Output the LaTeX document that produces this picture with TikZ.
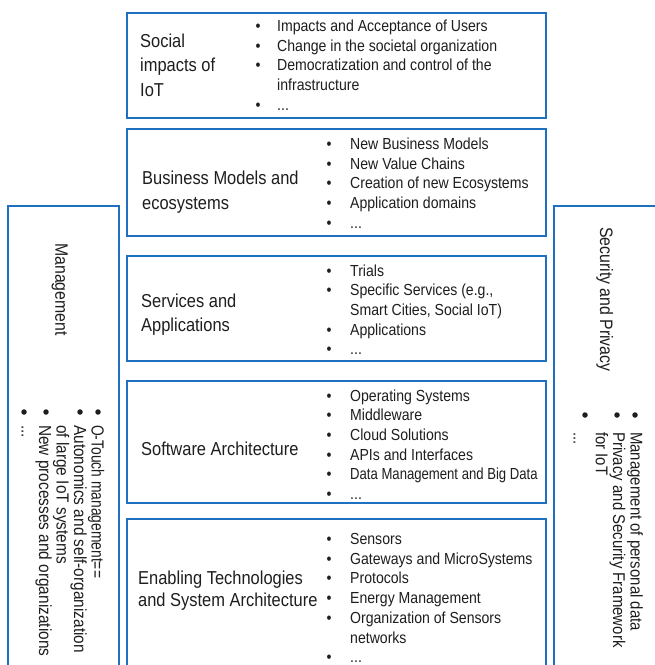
\documentclass[tikz,border=0pt]{standalone}
\usepackage{fontspec}
\setmainfont{Liberation Sans}[FakeStretch=0.88]
\definecolor{frameblue}{RGB}{31,112,193}
\definecolor{ink}{RGB}{30,30,30}
\newcommand\bitem[1]{\textbullet & #1\\}
\newcommand\bcont[1]{ & #1\\}
\newcommand\narrow[2]{{\addfontfeature{FakeStretch=#1}#2}}
\begin{document}
\begin{tikzpicture}[x=1pt,y=-1pt,
  frame/.style={draw=frameblue, line width=2.2pt, inner sep=0, anchor=north west},
  ttl/.style={font=\fontsize{18.7}{24.7}\selectfont, text=ink, inner sep=0, anchor=base west},
  lst/.style={font=\fontsize{16}{19.7}\selectfont, text=ink, inner sep=0, anchor=base west},
  sidettl/.style={font=\fontsize{18}{22}\selectfont, text=ink, inner sep=0, anchor=base west, rotate=-90},
  sidelst/.style={text=ink, inner sep=0, anchor=base west, rotate=-90},
  dot/.style={circle, fill=ink, inner sep=0, minimum size=5.5pt}]
\useasboundingbox (0,0) rectangle (655,665);
\clip (0,0) rectangle (655,665);
\fill[white] (0,0) rectangle (655,665);
% frames
\node[frame, minimum width=419pt, minimum height=105pt] (b1) at (126,12) {};
\node[frame, minimum width=419pt, minimum height=107pt] (b2) at (126,128) {};
\node[frame, minimum width=419pt, minimum height=105pt] (b3) at (126,255) {};
\node[frame, minimum width=419pt, minimum height=122pt] (b4) at (126,380) {};
\node[frame, minimum width=419pt, minimum height=200pt] (b5) at (126,518) {};
\node[frame, minimum width=111pt, minimum height=500pt] (bl) at (7,205) {};
\node[frame, minimum width=150pt, minimum height=500pt] (br) at (553,205) {};
% titles
\node[ttl] (t1) at (140,47) {\begin{tabular}[t]{@{}l@{}}Social\\impacts of\\IoT\end{tabular}};
\node[ttl] (t2) at (142,184.5) {\begin{tabular}[t]{@{}l@{}}Business Models and\\ecosystems\end{tabular}};
\node[ttl] (t3) at (141,307) {\begin{tabular}[t]{@{}l@{}}Services and\\Applications\end{tabular}};
\node[ttl] (t4) at (141,455) {Software Architecture};
\node[font=\fontsize{18.7}{22}\selectfont, text=ink, inner sep=0, anchor=base west] (t5) at (138,584) {\begin{tabular}[t]{@{}l@{}}Enabling Technologies\\and System Architecture\end{tabular}};
% lists
\node[lst] (l1) at (255.5,31.5) {\begin{tabular}[t]{@{}p{21.5pt}@{}l@{}}
\bitem{Impacts and Acceptance of Users}
\bitem{Change in the societal organization}
\bitem{Democratization and control of the}
\bcont{infrastructure}
\bitem{...}
\end{tabular}};
\node[lst] (l2) at (326.5,149.5) {\begin{tabular}[t]{@{}p{23.5pt}@{}l@{}}
\bitem{New Business Models}
\bitem{New Value Chains}
\bitem{Creation of new Ecosystems}
\bitem{Application domains}
\bitem{...}
\end{tabular}};
\node[lst] (l3) at (326.5,276) {\begin{tabular}[t]{@{}p{23.5pt}@{}l@{}}
\bitem{Trials}
\bitem{Specific Services (e.g.,}
\bcont{Smart Cities, Social IoT)}
\bitem{Applications}
\bitem{...}
\end{tabular}};
\node[lst] (l4) at (326.5,401) {\begin{tabular}[t]{@{}p{23.5pt}@{}l@{}}
\bitem{Operating Systems}
\bitem{Middleware}
\bitem{Cloud Solutions}
\bitem{APIs and Interfaces}
\bitem{\narrow{0.82}{Data Management and Big Data}}
\bitem{...}
\end{tabular}};
\node[lst] (l5) at (326.5,544.5) {\begin{tabular}[t]{@{}p{23.5pt}@{}l@{}}
\bitem{Sensors}
\bitem{Gateways and MicroSystems}
\bitem{Protocols}
\bitem{Energy Management}
\bitem{Organization of Sensors}
\bcont{networks}
\bitem{...}
\end{tabular}};
% left side
\node[sidettl] (mt) at (55.5,243) {Management};
\node[sidelst, font=\fontsize{17.5}{16}\selectfont] (ml) at (91.5,425) {\begin{tabular}[t]{@{}l@{}}\narrow{0.79}{O-Touch management==}\\Autonomics and self-organization\\of large IoT systems\\New processes and organizations\end{tabular}};
\node[sidelst, font=\fontsize{17.5}{16}\selectfont] (me) at (21.5,425) {...};
\node[dot] (md1) at (98,412) {};
\node[dot] (md2) at (80,412) {};
\node[dot] (md3) at (46,412) {};
\node[dot] (md4) at (24,412) {};
% right side
\node[sidettl] (st) at (600,227) {Security and Privacy};
\node[sidelst, font=\fontsize{17}{16.5}\selectfont] (sl) at (630.5,432) {\begin{tabular}[t]{@{}l@{}}Management of personal data\\Privacy and Security Framework\\for IoT\end{tabular}};
\node[sidelst, font=\fontsize{17}{16.5}\selectfont] (se) at (573.5,432) {...};
\node[dot] (sd1) at (635,415) {};
\node[dot] (sd2) at (617,415) {};
\node[dot] (sd3) at (585,415) {};
\end{tikzpicture}
\end{document}
